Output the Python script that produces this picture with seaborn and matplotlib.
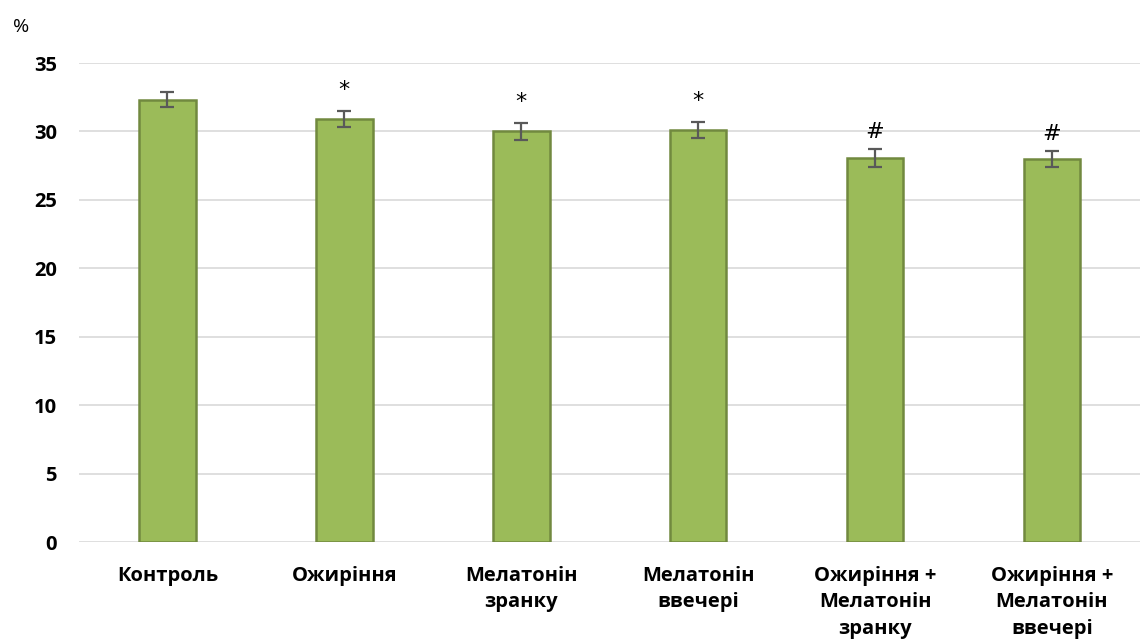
import matplotlib
matplotlib.use("Agg")
import matplotlib.pyplot as plt
import seaborn as sns
import pandas as pd

categories = ["Контроль", "Ожиріння", "Мелатонін\nзранку", "Мелатонін\nввечері",
              "Ожиріння +\nМелатонін\nзранку", "Ожиріння +\nМелатонін\nввечері"]
values = [32.3, 30.9, 30.0, 30.1, 28.05, 28.0]
errors = [0.55, 0.6, 0.6, 0.6, 0.65, 0.6]
marks = ["", "*", "*", "*", "#", "#"]
y_ticks = [0, 5, 10, 15, 20, 25, 30, 35]

sns.set_theme(style="white")
plt.rcParams["font.family"] = ["Open Sans", "DejaVu Sans"]

df = pd.DataFrame({"group": categories, "value": values})

fig = plt.figure(figsize=(11.4, 6.43), dpi=100)
ax = fig.add_axes([0.0693, 0.157, 0.931, 0.745])

sns.barplot(data=df, x="group", y="value", ax=ax, color="#9BBB59",
            width=0.32, errorbar=None, saturation=1,
            edgecolor="#71893F", linewidth=1.8, zorder=3)

xs = list(range(len(categories)))
ax.errorbar(xs, values, yerr=errors, fmt="none", ecolor="#595959",
            elinewidth=1.6, capsize=5, capthick=1.6, zorder=4)

for x, v, e, m in zip(xs, values, errors, marks):
    if m:
        ax.annotate(m, xy=(x, v + e), xytext=(0, 8 if m == "*" else 5),
                    textcoords="offset points", ha="center", va="bottom",
                    fontsize=16, color="black", family="DejaVu Sans")

ax.set_ylim(0, 35)
ax.set_xlim(-0.5, len(categories) - 0.5)
ax.set_yticks(y_ticks)
ax.yaxis.grid(True, color="#D9D9D9", linewidth=1.2, zorder=0)
ax.set_axisbelow(True)
for s in ax.spines.values():
    s.set_visible(False)

ax.set_xlabel("")
ax.set_ylabel("")
ax.tick_params(axis="both", length=0, labelcolor="black")
ax.tick_params(axis="y", pad=16)
ax.tick_params(axis="x", pad=17)
for lbl in ax.get_yticklabels():
    lbl.set_fontweight("bold")
    lbl.set_fontsize(14.5)
for lbl in ax.get_xticklabels():
    lbl.set_fontweight("bold")
    lbl.set_fontsize(14.5)
    lbl.set_linespacing(1.45)

fig.text(0.011, 0.958, "%", fontsize=14, ha="left", va="center", color="black")

fig.savefig("out.png", dpi=100)
